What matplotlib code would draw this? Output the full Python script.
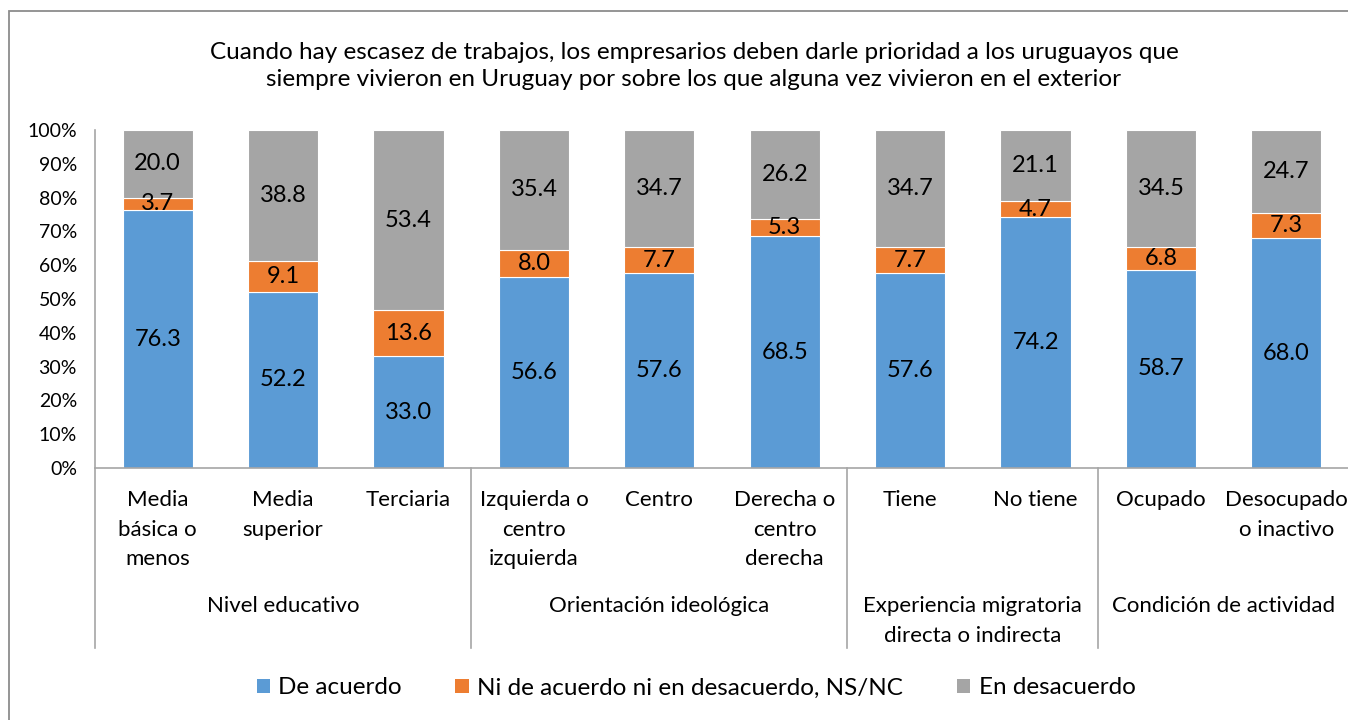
import matplotlib
matplotlib.use("Agg")
import matplotlib.pyplot as plt
from matplotlib.patches import Rectangle, Patch
from matplotlib.transforms import blended_transform_factory

plt.rcParams['font.family'] = ['Lato', 'DejaVu Sans']

title = ("Cuando hay escasez de trabajos, los empresarios deben darle prioridad a los uruguayos que\n"
         "siempre vivieron en Uruguay por sobre los que alguna vez vivieron en el exterior")
categories = ["Media\nbásica o\nmenos", "Media\nsuperior", "Terciaria",
              "Izquierda o\ncentro\nizquierda", "Centro", "Derecha o\ncentro\nderecha",
              "Tiene", "No tiene", "Ocupado", "Desocupado\no inactivo"]
groups = ["Nivel educativo", "Orientación ideológica",
          "Experiencia migratoria\ndirecta o indirecta", "Condición de actividad"]
group_sizes = [3, 3, 2, 2]
series_names = ["De acuerdo", "Ni de acuerdo ni en desacuerdo, NS/NC", "En desacuerdo"]
de_acuerdo = [76.3, 52.2, 33.0, 56.6, 57.6, 68.5, 57.6, 74.2, 58.7, 68.0]
ni_ni = [3.7, 9.1, 13.6, 8.0, 7.7, 5.3, 7.7, 4.7, 6.8, 7.3]
en_desacuerdo = [20.0, 38.8, 53.4, 35.4, 34.7, 26.2, 34.7, 21.1, 34.5, 24.7]
colors = ["#5B9BD5", "#ED7D31", "#A5A5A5"]
yticks = [0, 10, 20, 30, 40, 50, 60, 70, 80, 90, 100]

W, H = 1348, 720
fig = plt.figure(figsize=(W / 100, H / 100), dpi=100)
fig.add_artist(Rectangle((8.5 / W, -0.01), 1.1, 1 - 11 / H + 0.01,
                         transform=fig.transFigure, fill=False,
                         edgecolor="#8C8C8C", linewidth=1.3))

ax = fig.add_axes([95 / W, (H - 468) / H, (1349 - 95) / W, (468 - 130) / H])
x = list(range(len(categories)))
bw = 0.56
bottom = [0] * len(x)
for vals, col in zip([de_acuerdo, ni_ni, en_desacuerdo], colors):
    ax.bar(x, vals, bw, bottom=bottom, color=col, edgecolor="white", linewidth=0.8)
    for xi, v, b in zip(x, vals, bottom):
        ax.text(xi, b + v / 2, f"{v:.1f}", ha="center", va="center", fontsize=17, color="black")
    bottom = [b + v for b, v in zip(bottom, vals)]

ax.set_xlim(-0.5, len(x) - 0.5)
ax.set_ylim(0, 100)
ax.set_yticks(yticks)
ax.set_yticklabels([f"{t}%" for t in yticks], fontsize=14)
ax.tick_params(axis="y", length=0, pad=13)
ax.set_xticks([])
for s in ["top", "right"]:
    ax.spines[s].set_visible(False)
for s in ["left", "bottom"]:
    ax.spines[s].set_color("#A6A6A6")
    ax.spines[s].set_linewidth(1.2)

tr = blended_transform_factory(ax.transData, ax.transAxes)
axh = 468 - 130
for xi, c in zip(x, categories):
    ax.text(xi, -(490 - 468) / axh, c, ha="center", va="top", fontsize=16,
            linespacing=1.6, transform=tr)

start = 0
bounds = [-0.5]
for g, n in zip(groups, group_sizes):
    center = start + (n - 1) / 2
    ax.text(center, -(596 - 468) / axh, g, ha="center", va="top", fontsize=16,
            linespacing=1.6, transform=tr)
    start += n
    bounds.append(start - 0.5)
for bnd in bounds:
    ax.plot([bnd, bnd], [0, -(648 - 468) / axh], transform=tr, color="#A6A6A6",
            linewidth=1.2, clip_on=False)

fig.text(694 / W, 1 - 66 / H, title, ha="center", va="center", fontsize=17.5, linespacing=1.4)

handles = [Patch(facecolor=c, edgecolor="none") for c in colors]
fig.legend(handles, series_names, loc="center", bbox_to_anchor=(696 / W, 1 - 688 / H),
           ncol=3, frameon=False, fontsize=17.5, handlelength=0.55, handleheight=0.55,
           handletextpad=0.35, columnspacing=2.2)

fig.savefig("out.png", dpi=100)
